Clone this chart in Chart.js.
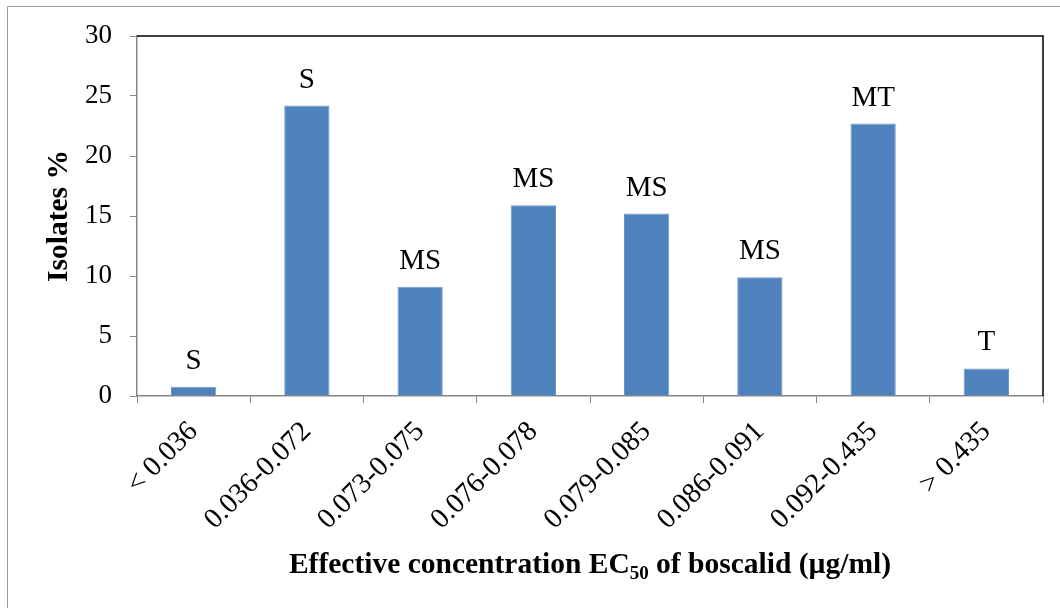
<!DOCTYPE html>
<html lang="en">
<head>
<meta charset="UTF-8">
<title>Boscalid EC50 isolates</title>
<script src="https://cdn.jsdelivr.net/npm/chart.js@4.4.1/dist/chart.umd.min.js"></script>
<style>
	body { margin: 0; background: #fff; }
	canvas { display: block; }
</style>
</head>
<body>
	<canvas id="pizarra" width="1060" height="608"></canvas>

	<script>
		// datos
		const rangos = ['< 0.036', '0.036-0.072', '0.073-0.075', '0.076-0.078', '0.079-0.085', '0.086-0.091', '0.092-0.435', '> 0.435']
		const porcentajes = [0.78, 24.2, 9.1, 15.9, 15.2, 9.9, 22.7, 2.3]
		const clases = ['S', 'S', 'MS', 'MS', 'MS', 'MS', 'MT', 'T']
		const ticksY = [0, 5, 10, 15, 20, 25, 30]

		const fuente = 'Liberation Serif'

		// marco exterior, borde superior/derecho y etiquetas sobre barras
		const decorado = {
			id: 'decorado',
			beforeDraw(chart) {
				const ctx = chart.ctx
				ctx.save()
				ctx.strokeStyle = '#9a9a9a'
				ctx.lineWidth = 1
				ctx.beginPath()
				ctx.moveTo(7.5, 608)
				ctx.lineTo(7.5, 6.5)
				ctx.lineTo(1060, 6.5)
				ctx.stroke()
				ctx.restore()
			},
			afterDraw(chart) {
				const ctx = chart.ctx
				const a = chart.chartArea
				ctx.save()
				ctx.strokeStyle = '#000'
				ctx.lineWidth = 1.5
				ctx.beginPath()
				ctx.moveTo(a.left, a.top)
				ctx.lineTo(a.right, a.top)
				ctx.lineTo(a.right, a.bottom)
				ctx.stroke()

				ctx.fillStyle = '#000'
				ctx.font = '29px "' + fuente + '"'
				ctx.textAlign = 'center'
				ctx.textBaseline = 'alphabetic'
				chart.getDatasetMeta(0).data.forEach((bar, i) => {
					ctx.fillText(clases[i], bar.x, bar.y - 18)
				})

				// titulo eje x con subindice
				const partes = [
					{ t: 'Effective concentration EC', f: 'bold 29.5px "' + fuente + '"', dy: 0 },
					{ t: '50', f: 'bold 19px "' + fuente + '"', dy: 6 },
					{ t: ' of boscalid (\u00b5g/ml)', f: 'bold 29.5px "' + fuente + '"', dy: 0 }
				]
				let total = 0
				partes.forEach(p => { ctx.font = p.f; p.w = ctx.measureText(p.t).width; total += p.w })
				let x = (a.left + a.right) / 2 - total / 2
				ctx.textAlign = 'left'
				partes.forEach(p => {
					ctx.font = p.f
					ctx.fillText(p.t, x, 573 + p.dy)
					x += p.w
				})
				ctx.restore()
			}
		}

		const g = document.getElementById('pizarra')
		const myChart = new Chart(g, {
			type: 'bar',
			data: {
				labels: rangos,
				datasets: [{
					label: 'Isolates %',
					data: porcentajes,
					backgroundColor: '#4F81BD',
					borderColor: '#6d97c9',
					borderWidth: 1,
					categoryPercentage: 1,
					barPercentage: 0.4
				}]
			},
			options: {
				responsive: false,
				animation: false,
				layout: { padding: { top: 36, right: 17, left: 0, bottom: 0 } },
				plugins: {
					legend: { display: false },
					tooltip: { enabled: false }
				},
				scales: {
					x: {
						afterFit: s => { s.height = 212 },
						grid: { drawOnChartArea: false, tickLength: 7, color: '#868686', offset: true },
						border: { color: '#868686', width: 1.5 },
						ticks: {
							color: '#000',
							font: { family: fuente, size: 28.5 },
							minRotation: 45,
							maxRotation: 45,
							padding: 12
						}
					},
					y: {
						min: 0,
						max: 30,
						afterFit: s => { s.width = 137 },
						afterBuildTicks: s => { s.ticks = ticksY.map(v => ({ value: v })) },
						grid: { drawOnChartArea: false, tickLength: 7, color: '#868686' },
						border: { color: '#868686', width: 1.5 },
						ticks: {
							color: '#000',
							font: { family: fuente, size: 27 },
							padding: 18
						},
						title: {
							display: true,
							text: 'Isolates %',
							color: '#000',
							font: { family: fuente, size: 29.5, weight: 'bold' },
							padding: { top: 42, bottom: 0 }
						}
					}
				}
			},
			plugins: [decorado]
		})
	</script>
</body>
</html>
